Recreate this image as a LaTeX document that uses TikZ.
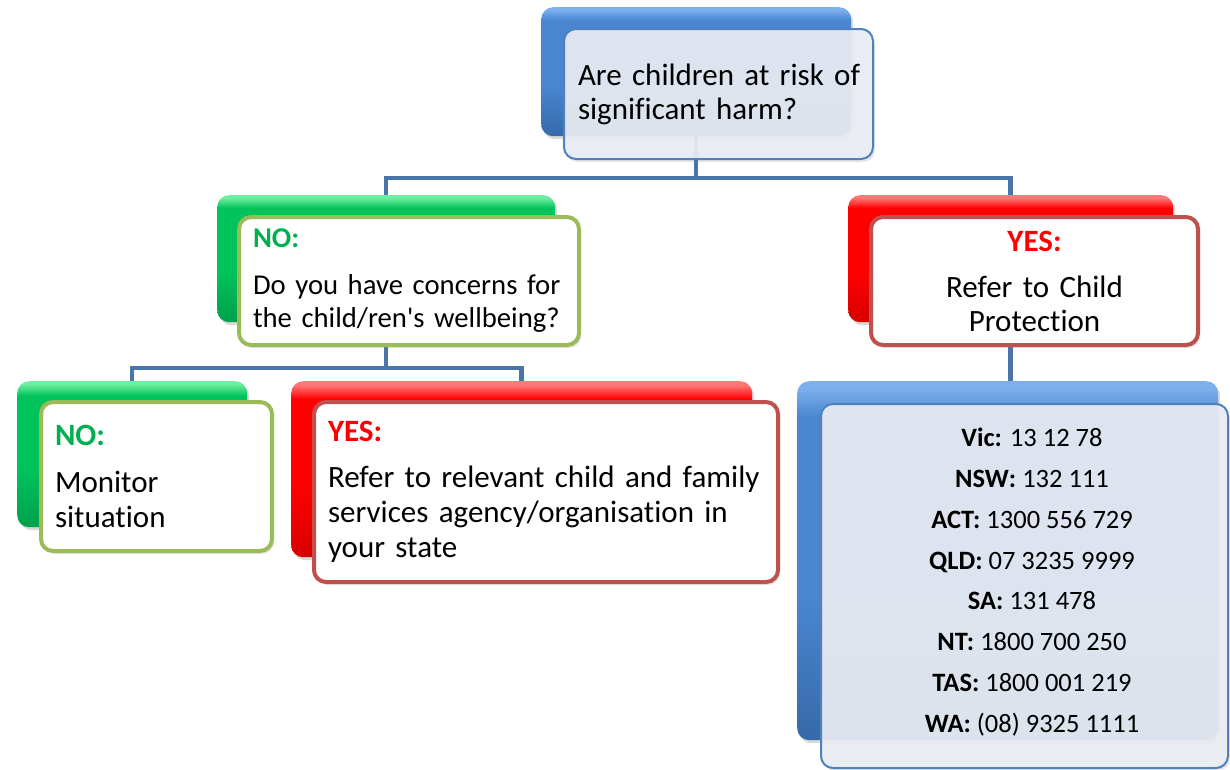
\documentclass[tikz,border=0pt]{standalone}
\usepackage{fontspec}
\setmainfont{Carlito}[Ligatures={NoCommon}]
\usetikzlibrary{shadows}
\definecolor{connc}{RGB}{74,117,170}
\definecolor{bluebd}{RGB}{79,129,189}
\definecolor{greenbd}{RGB}{155,187,89}
\definecolor{redbd}{RGB}{192,80,77}
\definecolor{notxt}{RGB}{0,176,80}
\definecolor{yestxt}{RGB}{255,0,0}
\definecolor{lightfill}{RGB}{234,237,243}
\definecolor{gdark}{RGB}{0,160,75}
\definecolor{gbase}{RGB}{0,195,92}
\definecolor{glight}{RGB}{110,238,160}
\definecolor{rdark}{RGB}{215,0,0}
\definecolor{rbase}{RGB}{255,0,0}
\definecolor{rlight}{RGB}{255,120,120}
\definecolor{bdark}{RGB}{55,105,170}
\definecolor{bbase}{RGB}{74,134,208}
\definecolor{blight}{RGB}{125,175,238}
\pgfdeclareverticalshading{greenshade}{100bp}{color(0bp)=(gdark); color(25bp)=(gdark); color(45bp)=(gbase); color(70bp)=(gbase); color(74bp)=(glight); color(100bp)=(glight)}
\pgfdeclareverticalshading{redshade}{100bp}{color(0bp)=(rdark); color(25bp)=(rdark); color(45bp)=(rbase); color(70bp)=(rbase); color(74bp)=(rlight); color(100bp)=(rlight)}
\pgfdeclareverticalshading{blueshade}{100bp}{color(0bp)=(bdark); color(25bp)=(bdark); color(45bp)=(bbase); color(70bp)=(bbase); color(74bp)=(blight); color(100bp)=(blight)}
\pgfdeclarelayer{bg}
\pgfsetlayers{bg,main}
\tikzset{
  boxbase/.style={rectangle, rounded corners=12pt, anchor=north west, inner sep=0pt},
  backbox/.style={boxbase, drop shadow={opacity=0.3, shadow xshift=2pt, shadow yshift=-3pt}},
  bluebackbox/.style={backbox, shading=blueshade, shading angle=0},
  greenbackbox/.style={backbox, shading=greenshade, shading angle=0},
  redbackbox/.style={backbox, shading=redshade, shading angle=0},
  frontbox/.style={boxbase, inner xsep=14pt, font=\fontsize{31}{35}\selectfont,
    drop shadow={opacity=0.2, shadow xshift=2pt, shadow yshift=-3pt}},
  bluefront/.style={frontbox, draw=bluebd, line width=2pt, fill=lightfill, fill opacity=0.92, text opacity=1},
  greenfront/.style={frontbox, draw=greenbd, line width=4pt, fill=white, align=left},
  redfront/.style={frontbox, draw=redbd, line width=4pt, fill=white},
  conn/.style={draw=connc, line width=4.5pt}
}
\newcommand{\nolbl}{\mbox{\color{notxt}\bfseries NO:}}
\newcommand{\yeslbl}{\mbox{\color{yestxt}\bfseries YES:}}
\begin{document}
\begin{tikzpicture}[x=1pt,y=-1pt]
\useasboundingbox (0,0) rectangle (1230,769);

% top question
\node[bluebackbox, minimum width=310pt, minimum height=129pt] (topback) at (541,7) {};
\node[bluefront, minimum height=130pt, text width=281pt, align=left, font=\fontsize{31}{34}\selectfont] (topfront) at (563,28)
  {\mbox{Are children at risk of}\\ \mbox{significant harm?}};

% NO level 1
\node[greenbackbox, minimum width=338pt, minimum height=127pt] (noback) at (217,195) {};
\node[greenfront, minimum height=128pt, text width=312pt, font=\fontsize{28.7}{33}\selectfont] (nofront) at (237,215)
  {\nolbl\\[14pt] \mbox{Do you have concerns for}\\ \mbox{the child/ren\textquotesingle s wellbeing?}};

% YES level 1
\node[redbackbox, minimum width=325pt, minimum height=127pt] (yesback) at (848,195) {};
\node[redfront, minimum height=128pt, text width=299pt, align=center, font=\fontsize{31}{34}\selectfont] (yesfront) at (869,215)
  {\yeslbl\\[12pt] \mbox{Refer to Child}\\ \mbox{Protection}};

% NO level 2
\node[greenbackbox, minimum width=230pt, minimum height=146pt] (monback) at (17,381) {};
\node[greenfront, minimum height=149pt, text width=203pt] (monfront) at (39,400)
  {\nolbl\\[12pt] \mbox{Monitor}\\ \mbox{situation}};

% YES level 2
\node[redbackbox, minimum width=461pt, minimum height=176pt] (refback) at (291,381) {};
\node[redfront, minimum height=180pt, text width=436pt, align=left] (reffront) at (312,400)
  {\yeslbl\\[11pt] \mbox{Refer to relevant child and family}\\ \mbox{services agency/organisation in}\\ \mbox{your state}};

% phone numbers
\node[bluebackbox, minimum width=421pt, minimum height=359pt] (telback) at (797,381) {};
\node[bluefront, minimum width=407pt, minimum height=364pt, inner sep=0pt] (telfront) at (820,403) {};
\node[align=center, font=\fontsize{26.5}{40.8}\selectfont] (tellist) at (1032,582)
  {\textbf{Vic:} 13 12 78\\
   \textbf{NSW:} 132 111\\
   \textbf{ACT:} 1300 556 729\\
   \textbf{QLD:} 07 3235 9999\\
   \textbf{SA:} 131 478\\
   \textbf{NT:} 1800 700 250\\
   \textbf{TAS:} 1800 001 219\\
   \textbf{WA:} (08) 9325 1111};

% connectors
\coordinate (h1) at (0,178);
\coordinate (h2) at (0,368);
\begin{pgfonlayer}{bg}
  \draw[conn] (topback.south) -- (topback.south |- h1);
  \draw[conn] (noback.north) |- (topback.south |- h1) -| (yesback.north);
  \draw[conn] (noback.south) -- (noback.south |- h2);
  \draw[conn] (monback.north) |- (noback.south |- h2) -| (refback.north);
  \draw[conn] (yesback.south) -- (yesback.south |- telback.north);
\end{pgfonlayer}
\end{tikzpicture}
\end{document}
